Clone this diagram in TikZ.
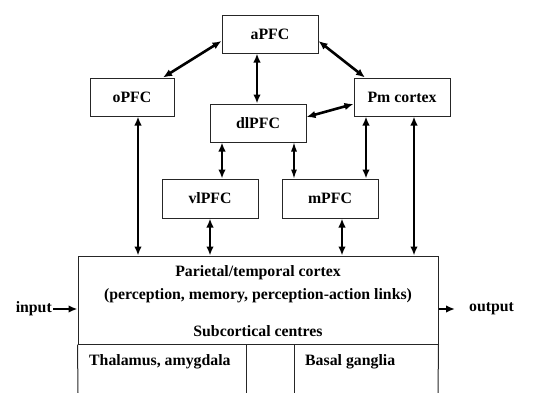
\documentclass[tikz,border=0pt]{standalone}
\usepackage{fontspec}
\setmainfont{Liberation Serif}
\usetikzlibrary{arrows.meta}
\begin{document}
\begin{tikzpicture}[x=1pt,y=-1pt,
  txt/.style={font=\bfseries\fontsize{15.8}{18}\selectfont, inner sep=0pt},
  box/.style={txt, draw=black!85, line width=1pt, minimum height=38pt, minimum width=96pt},
  link/.style={line width=2.6pt, {Latex[length=9pt,width=7.5pt]}-{Latex[length=9pt,width=7.5pt]}},
  thinlink/.style={line width=1.1pt, {Latex[length=9pt,width=6pt]}-{Latex[length=9pt,width=6pt]}},
  oneway/.style={line width=2.6pt, -{Latex[length=9pt,width=7.5pt]}},
  frame/.style={draw=black!85, line width=1pt}]
\useasboundingbox (0,0) rectangle (552,392);
% prefrontal boxes
\node[box] (apfc) at (270,34) {aPFC};
\node[box, minimum width=84pt] (opfc) at (132,97) {oPFC};
\node[box] (pm) at (402,97) {Pm cortex};
\node[box] (dlpfc) at (258,123) {dlPFC};
\node[box, minimum height=39pt] (vlpfc) at (210,198.5) {vlPFC};
\node[box, minimum height=39pt] (mpfc) at (330,198.5) {mPFC};
% bottom block
\node[frame, minimum width=360pt, minimum height=88pt, inner sep=0pt] (ptc) at (258,300) {};
\coordinate (thl) at (78,393);
\coordinate (thr) at (438,393);
\coordinate (d1) at (246,393);
\coordinate (d2) at (294,393);
\draw[frame] (ptc.south west) -- (thl);
\draw[frame] (ptc.south east) -- (thr);
\draw[frame] (d1 |- ptc.south) -- (d1);
\draw[frame] (d2 |- ptc.south) -- (d2);
\node[txt] (l1) at (258,273) {Parietal/temporal cortex};
\node[txt] (l2) at (258,295.5) {(perception, memory, perception-action links)};
\node[txt] (l3) at (258,331) {Subcortical centres};
\node[txt, anchor=west] (thal) at (89,362) {Thalamus, amygdala};
\node[txt, anchor=west] (bg) at (305,362) {Basal ganglia};
\node[txt, anchor=east] (input) at (52,309) {input};
\node[txt, anchor=west] (output) at (469,309) {output};
% connectors
\draw[link] ([yshift=-7pt]apfc.west) -- ([xshift=31pt]opfc.north);
\draw[link] ([yshift=-7pt]apfc.east) -- ([xshift=-37pt]pm.north);
\draw[link] ([xshift=-1pt]dlpfc.north |- apfc.south) -- ([xshift=-1pt]dlpfc.north);
\draw[link] ([yshift=6pt]dlpfc.east) -- ([yshift=-7pt]pm.west);
\draw[link] ([xshift=-36pt]dlpfc.south) -- ([xshift=-36pt]dlpfc.south |- vlpfc.north);
\draw[thinlink] ([xshift=36pt]dlpfc.south) -- ([xshift=36pt]dlpfc.south |- mpfc.north);
\draw[link] ([xshift=-36pt]pm.south) -- ([xshift=-36pt]pm.south |- mpfc.north);
\draw[link] ([xshift=6pt]opfc.south) -- ([xshift=6pt]opfc.south |- ptc.north);
\draw[link] (vlpfc.south) -- (vlpfc.south |- ptc.north);
\draw[link] ([xshift=12pt]mpfc.south) -- ([xshift=12pt]mpfc.south |- ptc.north);
\draw[link] ([xshift=12pt]pm.south) -- ([xshift=12pt]pm.south |- ptc.north);
\draw[oneway] ([xshift=1pt]input.east) -- (ptc.west |- input.east);
\coordinate (outend) at ([xshift=-14pt]output.west);
\draw[oneway] (ptc.east |- output.west) -- (outend);
\end{tikzpicture}
\end{document}
